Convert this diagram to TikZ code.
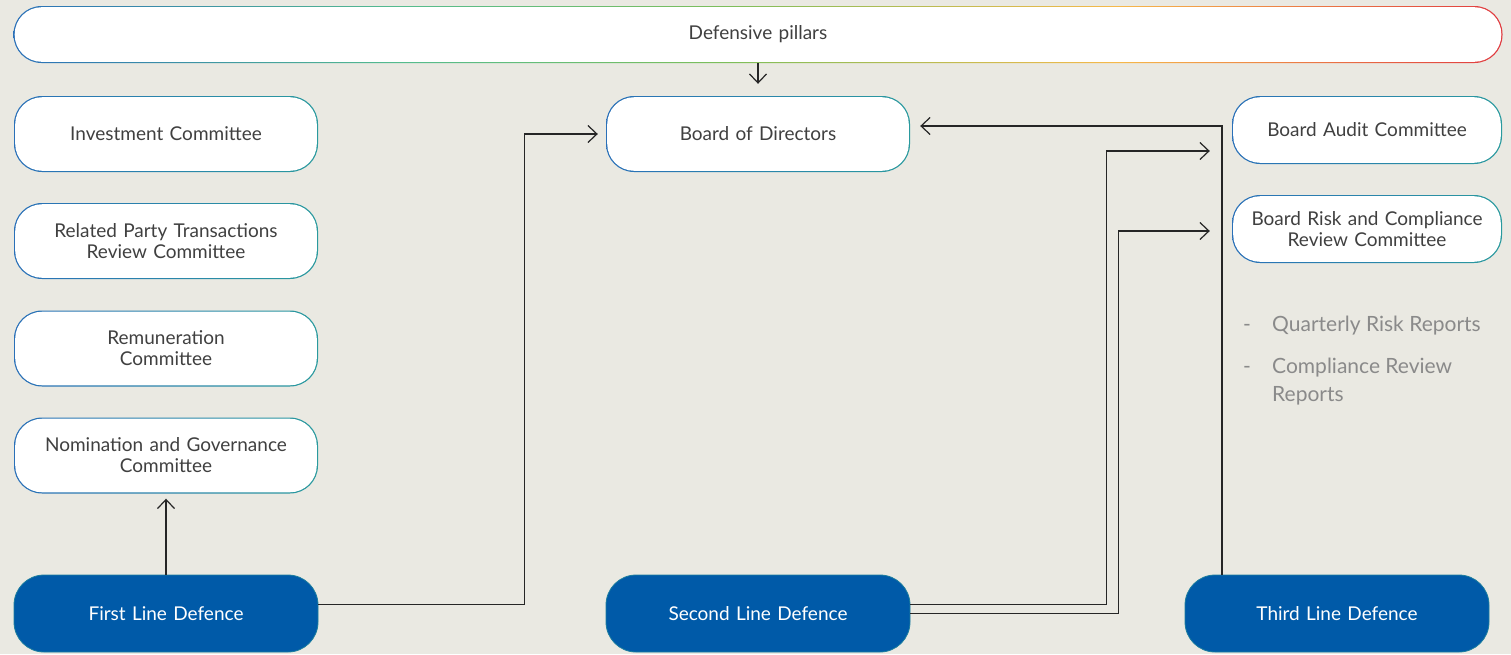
\documentclass[tikz,border=0pt]{standalone}
\usepackage{fontspec}
\setmainfont{Lato}
\usetikzlibrary{arrows.meta}

\definecolor{pagebg}{HTML}{EAE9E2}
\definecolor{edgeblue}{HTML}{2A70B8}
\definecolor{edgeteal}{HTML}{2A9A9E}
\definecolor{pgreen}{HTML}{55BC8E}
\definecolor{plime}{HTML}{7DBE5A}
\definecolor{pyellow}{HTML}{F6B94A}
\definecolor{pred}{HTML}{E03A40}
\definecolor{linefill}{HTML}{005AA8}
\definecolor{lineedge}{HTML}{1C7E9E}
\definecolor{textgrey}{HTML}{404040}
\definecolor{reportgrey}{HTML}{8A8A8A}
\definecolor{conncol}{HTML}{262626}

\pgfdeclarehorizontalshading{pillarsedge}{100bp}{color(0bp)=(edgeblue); color(25bp)=(edgeblue); color(38bp)=(pgreen); color(49bp)=(plime); color(62bp)=(pyellow); color(75bp)=(pred); color(100bp)=(pred)}

\tikzset{
  whitepill/.style={rounded corners=28pt, minimum width=304pt, minimum height=76pt,
    text width=290pt, align=center, inner sep=0pt, text=textgrey,
    font=\fontsize{19}{21}\selectfont,
    shade, left color=edgeblue, right color=edgeteal,
    path picture={\fill[white, rounded corners=27pt]
      ([shift={(1.2pt,-1.2pt)}]path picture bounding box.north west) rectangle
      ([shift={(-1.2pt,1.2pt)}]path picture bounding box.south east);}},
  smallpill/.style={whitepill, minimum width=270pt, minimum height=68pt, text width=260pt},
  linepill/.style={rounded corners=30pt, minimum width=304pt, minimum height=77pt,
    text width=290pt, align=center, inner sep=0pt, fill=linefill, draw=lineedge,
    line width=0.8pt, text=white, font=\fontsize{19}{21}\selectfont},
  conn/.style={draw=conncol, line width=1.2pt, -{Straight Barb[length=9pt,width=17pt]}},
  report/.style={text=reportgrey, inner sep=0pt, font=\fontsize{21}{28}\selectfont}
}

\begin{document}
\begin{tikzpicture}[x=1pt,y=-1pt]
\useasboundingbox[fill=pagebg] (0,0) rectangle (1511,654);

% top bar
\node[whitepill, shading=pillarsedge, shading angle=0, minimum width=1489pt,
  minimum height=57pt, text width=1400pt] (pillars) at (758,34.5) {Defensive pillars};

% committees on the left
\node[whitepill] (investment) at (166,134) {Investment Committee};
\node[whitepill] (related) at (166,241) {Related Party Transactions\\Review Committee};
\node[whitepill] (remuneration) at (166,348.5) {Remuneration\\Committee};
\node[whitepill] (nomination) at (166,455.5) {Nomination and Governance\\Committee};

% board
\node[whitepill] (board) at (758,134) {Board of Directors};

% committees on the right
\node[smallpill] (audit) at (1367,130) {Board Audit Committee};
\node[smallpill] (risk) at (1367,229) {Board Risk and Compliance\\Review Committee};

% reports
\node[report, anchor=base west] (dashone) at (1243,331) {-};
\node[report, anchor=base west] (quarterly) at (1272,331) {Quarterly Risk Reports};
\node[report, anchor=base west] (dashtwo) at (1243,373) {-};
\node[report, anchor=base west] (compliance) at (1272,373) {Compliance Review};
\node[report, anchor=base west] (reports) at (1272,401) {Reports};

% lines of defence
\node[linepill] (first) at (166,613.5) {First Line Defence};
\node[linepill] (second) at (758,613.5) {Second Line Defence};
\node[linepill] (third) at (1337,613.5) {Third Line Defence};

% connectors
\draw[conn] (pillars.south) -- ([yshift=12pt]board.north);
\draw[conn] (first.north) -- ([yshift=-5pt]nomination.south);
\draw[conn] ([yshift=9pt]first.east) -| ([xshift=-81pt]board.west)
  -- ([xshift=-8pt]board.west);
\draw[conn] ([yshift=9pt]second.east) -| ([shift={(-125pt,-21pt)}]audit.west)
  -- ([shift={(-22pt,-21pt)}]audit.west);
\draw[conn] (second.east) -| ([shift={(-113pt,-2pt)}]risk.west)
  -- ([shift={(-22pt,-2pt)}]risk.west);
\draw[conn] ([xshift=-115pt]third.north) |- ([shift={(10pt,8pt)}]board.east);
\end{tikzpicture}
\end{document}
